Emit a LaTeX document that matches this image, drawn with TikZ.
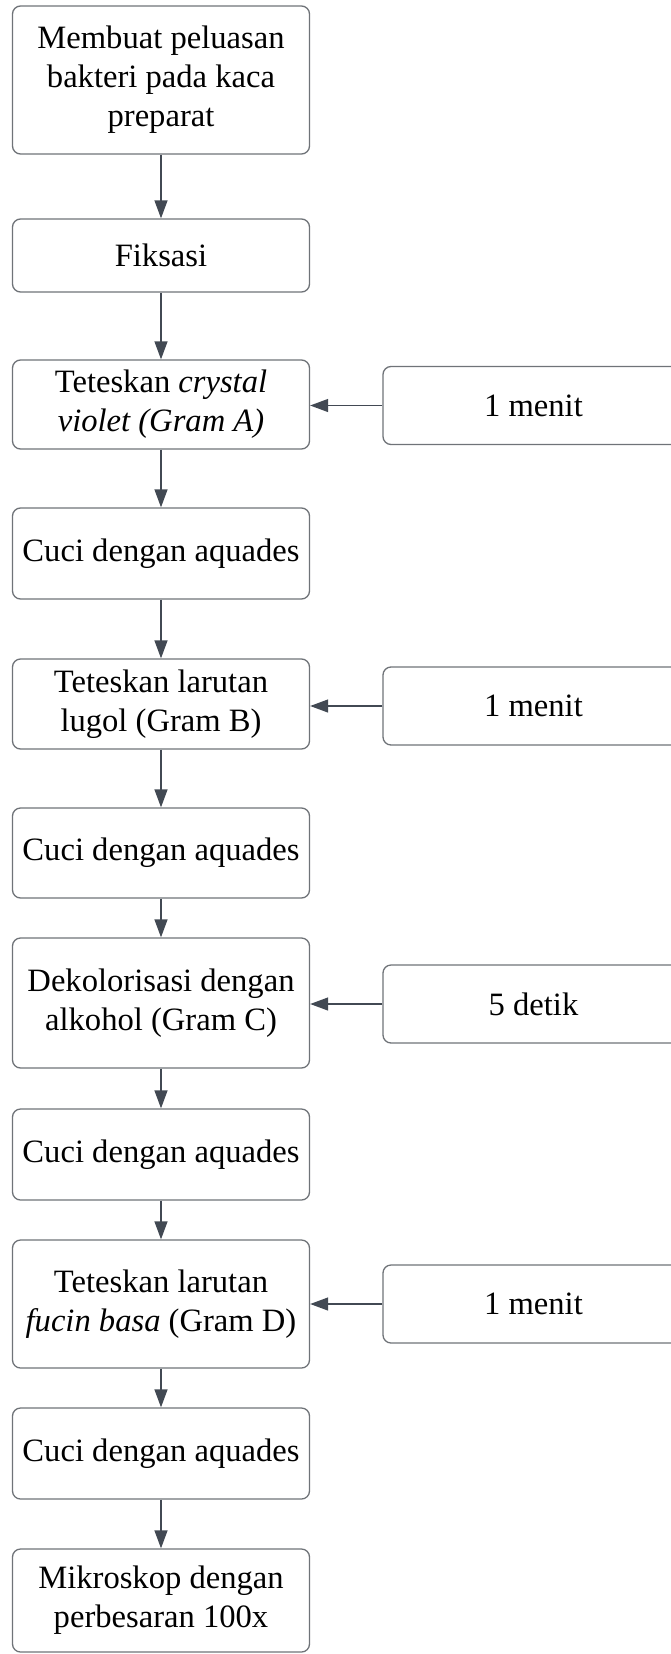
\documentclass[tikz,border=0pt]{standalone}
\usepackage{fontspec}
\setmainfont{Liberation Serif}
\usetikzlibrary{arrows.meta}
\definecolor{boxline}{HTML}{6F7378}
\definecolor{arrowcol}{HTML}{424953}
\tikzset{
  stepbox/.style={draw=boxline, line width=1.3pt, rounded corners=8pt,
    minimum width=297pt, align=center, inner sep=2pt,
    font=\fontsize{32.6}{39}\selectfont},
  timebox/.style={draw=boxline, line width=1.3pt, rounded corners=8pt,
    minimum width=301pt, minimum height=78pt, align=center,
    font=\fontsize{32.6}{39}\selectfont},
  flow/.style={draw=arrowcol, line width=1.3pt,
    -{Triangle[length=18pt,width=13pt]}}
}
\begin{document}
\begin{tikzpicture}[x=1pt,y=-1pt]
\useasboundingbox (0,0) rectangle (671,1654);
% main column of steps
\node[stepbox, minimum height=148pt] (b1) at (161,80) {Membuat peluasan\\bakteri pada kaca\\preparat};
\node[stepbox, minimum height=73pt] (b2) at (161,255.5) {Fiksasi};
\node[stepbox, minimum height=89pt] (b3) at (161,404.5) {Teteskan \textit{crystal}\\\textit{violet (Gram A)}};
\node[stepbox, minimum height=91pt] (b4) at (161,553.5) {Cuci dengan aquades};
\node[stepbox, minimum height=90pt] (b5) at (161,704) {Teteskan larutan\\lugol (Gram B)};
\node[stepbox, minimum height=90pt] (b6) at (161,853) {Cuci dengan aquades};
\node[stepbox, minimum height=130pt] (b7) at (161,1003) {Dekolorisasi dengan\\alkohol (Gram C)};
\node[stepbox, minimum height=91pt] (b8) at (161,1154.5) {Cuci dengan aquades};
\node[stepbox, minimum height=128pt] (b9) at (161,1304) {Teteskan larutan\\\textit{fucin basa} (Gram D)};
\node[stepbox, minimum height=91pt] (b10) at (161,1453.5) {Cuci dengan aquades};
\node[stepbox, minimum height=103pt] (b11) at (161,1600.5) {Mikroskop dengan\\perbesaran 100x};
% durations
\node[timebox] (t1) at (533.5,405.5) {1 menit};
\node[timebox] (t2) at (533.5,706) {1 menit};
\node[timebox] (t3) at (533.5,1004) {5 detik};
\node[timebox] (t4) at (533.5,1304) {1 menit};
% connectors
\foreach \a/\b in {b1/b2,b2/b3,b3/b4,b4/b5,b5/b6,b6/b7,b7/b8,b8/b9,b9/b10,b10/b11}
  \draw[flow] (\a) -- (\b);
\draw[flow] (t1.west) -- (t1.west -| b3.east);
\draw[flow] (t2.west) -- (t2.west -| b5.east);
\draw[flow] (t3.west) -- (t3.west -| b7.east);
\draw[flow] (t4.west) -- (t4.west -| b9.east);
\end{tikzpicture}
\end{document}
